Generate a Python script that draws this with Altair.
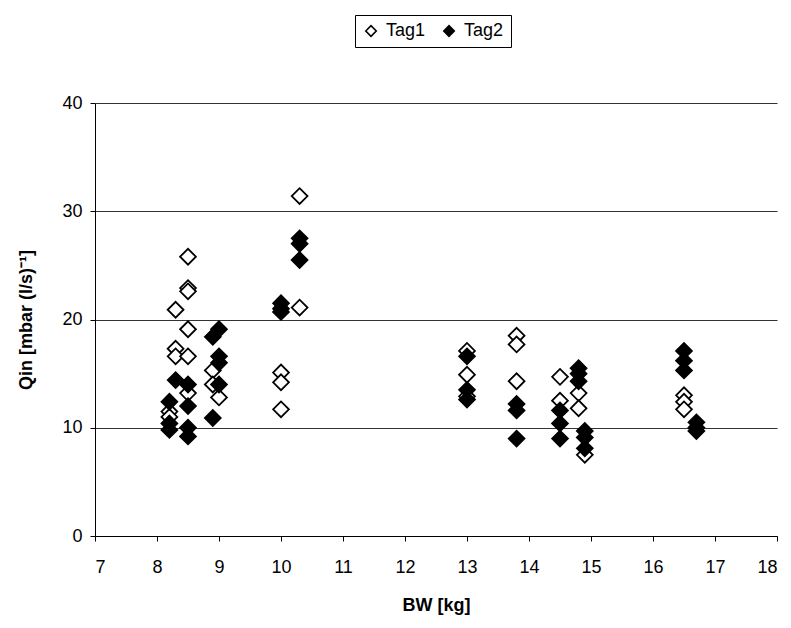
import altair as alt
import pandas as pd

# Tag1 (open diamonds)
bw_tag1 = [8.2, 8.2, 8.3, 8.3, 8.3, 8.5, 8.5, 8.5, 8.5, 8.5, 8.5,
           8.9, 8.9, 9.0, 10.0, 10.0, 10.0, 10.3, 10.3,
           13.0, 13.0, 13.0, 13.8, 13.8, 13.8, 14.5, 14.5,
           14.8, 14.8, 14.9, 16.5, 16.5, 16.5]
q_tag1 = [11.5, 11.0, 20.9, 17.3, 16.6, 25.8, 22.9, 22.6, 19.1, 16.6, 13.2,
          15.3, 14.0, 12.8, 15.1, 14.2, 11.7, 31.4, 21.1,
          17.1, 14.9, 12.9, 18.5, 17.7, 14.3, 14.7, 12.5,
          13.2, 11.8, 7.5, 13.0, 12.4, 11.7]

# Tag2 (filled diamonds)
bw_tag2 = [8.2, 8.2, 8.2, 8.3, 8.5, 8.5, 8.5, 8.5, 8.9, 8.9,
           9.0, 9.0, 9.0, 9.0, 10.0, 10.0, 10.0, 10.3, 10.3, 10.3,
           13.0, 13.0, 13.0, 13.8, 13.8, 13.8, 14.5, 14.5, 14.5,
           14.8, 14.8, 14.8, 14.9, 14.9, 14.9, 16.5, 16.5, 16.5,
           16.7, 16.7, 16.7]
q_tag2 = [12.4, 10.4, 9.8, 14.4, 14.0, 12.0, 10.0, 9.2, 18.4, 10.9,
          19.1, 16.6, 16.0, 14.0, 21.5, 21.0, 20.7, 27.5, 27.0, 25.5,
          16.6, 13.5, 12.6, 12.2, 11.6, 9.0, 11.6, 10.4, 9.0,
          15.5, 15.0, 14.3, 9.7, 9.1, 8.1, 17.1, 16.2, 15.3,
          10.5, 10.0, 9.7]

series_names = ["Tag1", "Tag2"]
x_ticks = list(range(7, 19))
y_ticks = [0, 10, 20, 30, 40]

rows = []
for b, q in zip(bw_tag1, q_tag1):
    rows.append({"BW": b, "Qin": q, "series": "Tag1", "ord": 0})
for b, q in zip(bw_tag2, q_tag2):
    rows.append({"BW": b, "Qin": q, "series": "Tag2", "ord": 1})
df = pd.DataFrame(rows)

FONT = "Liberation Sans"

chart = alt.Chart(df).mark_point(
    shape="diamond", filled=True, stroke="black", strokeWidth=1.8,
    size=250, opacity=1
).encode(
    x=alt.X("BW:Q", scale=alt.Scale(domain=[7, 18], nice=False, zero=False),
            axis=alt.Axis(values=x_ticks, title="BW [kg]", grid=False,
                          tickSize=5, labelPadding=17, titlePadding=20)),
    y=alt.Y("Qin:Q", scale=alt.Scale(domain=[0, 40], nice=False),
            axis=alt.Axis(values=y_ticks, title="Qin [mbar (l/s)⁻¹]", grid=True,
                          tickSize=5, labelPadding=8, titlePadding=26)),
    fill=alt.Fill("series:N", scale=alt.Scale(domain=series_names, range=["white", "black"]),
                  legend=alt.Legend(orient="none", legendX=260, legendY=-88,
                                    direction="horizontal", title=None,
                                    strokeColor="black", padding=7,
                                    symbolType="diamond", symbolSize=110,
                                    symbolStrokeColor="black", symbolStrokeWidth=1.6,
                                    labelFontSize=18, labelFont=FONT, labelColor="black",
                                    labelOffset=6, columnPadding=14)),
    order=alt.Order("ord:Q")
).properties(
    width=682, height=433,
    autosize=alt.AutoSizeParams(type="none"),
    padding={"left": 87, "top": 95, "right": 6, "bottom": 84}
).configure_view(
    stroke=None
).configure_axis(
    labelFont=FONT, labelFontSize=18, labelColor="black",
    titleFont=FONT, titleFontSize=18, titleFontWeight="bold", titleColor="black",
    domainColor="black", tickColor="black", gridColor="#333333", gridWidth=1
)

chart.save("out.html", embed_options={"renderer": "svg", "actions": False})
